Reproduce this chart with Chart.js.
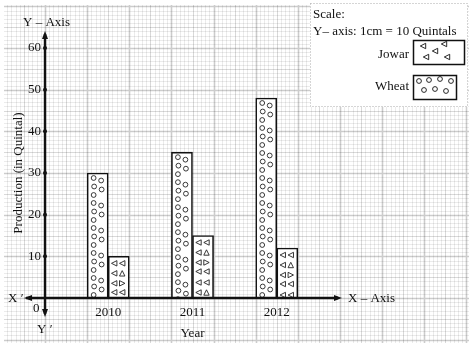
<!DOCTYPE html>
<html>
<head>
<meta charset="utf-8">
<script src="https://cdn.jsdelivr.net/npm/chart.js@4.4.0/dist/chart.umd.min.js"></script>
<style>
  html, body { margin: 0; padding: 0; background: #fff; }
</style>
</head>
<body>
<canvas id="productionChart" width="472" height="349"></canvas>
<script>
// data (blank slots keep the one-square gaps between years)
var years = ['', '2010', '', '2011', '', '2012', ''];
var wheat = [null, 30, null, 35, null, 48, null];
var jowar = [null, 10, null, 15, null, 12, null];
var yMax = 60;
var yStep = 10;

var serif = 'Liberation Serif, Times New Roman, serif';

// little marks used to fill the bars
function circleMark(ctx, x, y) {
  ctx.beginPath();
  ctx.arc(x, y, 2.4, 0, Math.PI * 2);
  ctx.stroke();
}
function triMark(ctx, x, y, dir) {
  var s = 2.7;
  ctx.beginPath();
  if (dir == 'l') { ctx.moveTo(x - s, y); ctx.lineTo(x + s, y - s); ctx.lineTo(x + s, y + s); }
  if (dir == 'r') { ctx.moveTo(x + s, y); ctx.lineTo(x - s, y - s); ctx.lineTo(x - s, y + s); }
  if (dir == 'u') { ctx.moveTo(x, y - s); ctx.lineTo(x + s, y + s); ctx.lineTo(x - s, y + s); }
  ctx.closePath();
  ctx.stroke();
}

// one tile of each fill, relative to the bar's top-left corner
var wheatTile = { h: 25, marks: [[6.5, 5], [14, 7.5], [7, 13.5], [14.5, 16.5], [6.5, 22]] };
var jowarTile = { h: 40, marks: [[6, 7, 'l'], [14, 7, 'l'], [6, 17, 'l'], [14, 17, 'u'],
                                 [6, 27, 'l'], [14, 27, 'r'], [6, 36, 'l'], [14, 36, 'l']] };

var graphPaper = {
  id: 'graphPaper',
  beforeDraw: function(chart) {
    var ctx = chart.ctx;
    var xs = chart.scales.x, ys = chart.scales.y;
    var x0 = xs.left, y0 = ys.getPixelForValue(0);
    var dx = xs.width / years.length / 10;            // 1 mm across
    var dy = (ys.getPixelForValue(0) - ys.getPixelForValue(10)) / 10; // 1 mm up
    var L = 4, R = 469, T = 5, B = 343;
    ctx.save();
    ctx.fillStyle = '#fff';
    ctx.fillRect(0, 0, chart.width, chart.height);
    var passes = [
      { test: function(k) { return k % 5 != 0; }, color: 'rgba(0,0,0,0.08)', w: 1 },
      { test: function(k) { return k % 5 == 0 && k % 10 != 0; }, color: 'rgba(0,0,0,0.15)', w: 1 },
      { test: function(k) { return k % 10 == 0; }, color: 'rgba(0,0,0,0.2)', w: 1.6 }
    ];
    passes.forEach(function(p) {
      ctx.strokeStyle = p.color;
      ctx.lineWidth = p.w;
      ctx.beginPath();
      for (var k = Math.ceil((L - x0) / dx); x0 + k * dx <= R; k++) {
        if (!p.test(Math.abs(k))) continue;
        var px = Math.round(x0 + k * dx) + 0.5;
        ctx.moveTo(px, T); ctx.lineTo(px, B);
      }
      for (var j = Math.ceil((y0 - B) / dy); y0 - j * dy >= T; j++) {
        if (!p.test(Math.abs(j))) continue;
        var py = Math.round(y0 - j * dy) + 0.5;
        ctx.moveTo(L, py); ctx.lineTo(R, py);
      }
      ctx.stroke();
    });
    ctx.restore();
  }
};

var decorations = {
  id: 'decorations',
  afterDatasetsDraw: function(chart) {
    var ctx = chart.ctx;
    var xs = chart.scales.x, ys = chart.scales.y;

    // fill bars with their marks
    [[0, wheatTile], [1, jowarTile]].forEach(function(d) {
      var meta = chart.getDatasetMeta(d[0]);
      var tile = d[1];
      meta.data.forEach(function(bar) {
        if (bar.skip || isNaN(bar.y)) return;
        var left = bar.x - bar.width / 2, top = bar.y, h = bar.base - bar.y;
        ctx.save();
        ctx.beginPath();
        ctx.rect(left + 1, top + 1, bar.width - 2, h - 1);
        ctx.clip();
        ctx.strokeStyle = '#222';
        ctx.lineWidth = 0.9;
        for (var oy = 0; oy < h; oy += tile.h) {
          tile.marks.forEach(function(m) {
            if (m.length == 3) triMark(ctx, left + m[0], top + oy + m[1], m[2]);
            else circleMark(ctx, left + m[0], top + oy + m[1]);
          });
        }
        ctx.restore();
      });
    });

    // axes with arrows
    var ax = xs.left, ay = ys.getPixelForValue(0);
    ctx.save();
    ctx.strokeStyle = '#111';
    ctx.fillStyle = '#111';
    ctx.lineWidth = 2.4;
    ctx.beginPath();
    ctx.moveTo(26, ay); ctx.lineTo(338, ay);
    ctx.moveTo(ax, 34); ctx.lineTo(ax, 314);
    ctx.stroke();
    function arrow(tx, ty, ux, uy) {
      var len = 8, half = 3;
      ctx.beginPath();
      ctx.moveTo(tx, ty);
      ctx.lineTo(tx - ux * len - uy * half, ty - uy * len + ux * half);
      ctx.lineTo(tx - ux * len + uy * half, ty - uy * len - ux * half);
      ctx.closePath();
      ctx.fill();
    }
    arrow(342, ay, 1, 0);
    arrow(24, ay, -1, 0);
    arrow(ax, 31, 0, -1);
    arrow(ax, 317, 0, 1);
    // tick dots on the y axis
    for (var v = yStep; v <= yMax; v += yStep) {
      ctx.beginPath();
      ctx.arc(ax, ys.getPixelForValue(v), 2, 0, Math.PI * 2);
      ctx.fill();
    }

    // axis names
    ctx.font = '13px ' + serif;
    ctx.textBaseline = 'middle';
    ctx.textAlign = 'left';
    ctx.fillText('X – Axis', 348, ay + 1);
    ctx.fillText('Y – Axis', 23, 23);
    ctx.fillText('X \u2032', 8, ay + 1);
    ctx.fillText('Y \u2032', 37, 330);
    ctx.fillText('0', 33, ay + 11);

    // scale / key box
    ctx.fillStyle = '#fff';
    ctx.fillRect(310, 3, 158, 104);
    ctx.strokeStyle = '#aaa';
    ctx.lineWidth = 1;
    ctx.setLineDash([1, 2]);
    ctx.strokeRect(310.5, 3.5, 157, 103);
    ctx.setLineDash([]);
    ctx.fillStyle = '#111';
    ctx.fillText('Scale:', 313, 15);
    ctx.fillText('Y\u2013 axis: 1cm = 10 Quintals', 313, 32);
    ctx.textAlign = 'right';
    ctx.fillText('Jowar', 409, 55);
    ctx.fillText('Wheat', 409, 87);
    ctx.strokeStyle = '#111';
    ctx.lineWidth = 1.5;
    ctx.strokeRect(413.5, 40.5, 51, 24);
    ctx.strokeRect(413.5, 75.5, 43, 24);
    ctx.lineWidth = 0.9;
    [[423, 46, 'l'], [444, 44, 'l'], [435, 51, 'l'], [426, 57, 'l'], [447, 57, 'l']].forEach(function(m) {
      triMark(ctx, m[0], m[1], m[2]);
    });
    [[419, 81], [429, 80], [440, 79], [451, 81], [424, 90], [435, 89], [446, 91]].forEach(function(m) {
      circleMark(ctx, m[0], m[1]);
    });
    ctx.restore();
  }
};

var ctx = document.getElementById('productionChart');
var productionChart = new Chart(ctx, {
  type: 'bar',
  data: {
    labels: years,
    datasets: [{
      label: 'Wheat',
      data: wheat,
      backgroundColor: '#fff',
      borderColor: '#111',
      borderWidth: 1.6,
      barPercentage: 1,
      categoryPercentage: 1
    }, {
      label: 'Jowar',
      data: jowar,
      backgroundColor: '#fff',
      borderColor: '#111',
      borderWidth: 1.6,
      barPercentage: 1,
      categoryPercentage: 1
    }]
  },
  options: {
    responsive: false,
    animation: false,
    devicePixelRatio: 1,
    layout: { padding: { top: 48, right: 132, left: 1, bottom: 0 } },
    plugins: {
      legend: { display: false },
      tooltip: { enabled: false }
    },
    scales: {
      x: {
        grid: { display: false, drawTicks: false },
        border: { display: false },
        ticks: { color: '#111', font: { family: serif, size: 13 }, padding: 7, maxRotation: 0, autoSkip: false },
        title: { display: true, text: 'Year', color: '#111', font: { family: serif, size: 13 }, padding: { top: 0, bottom: 8 } },
        afterFit: function(scale) { scale.height = 51; }
      },
      y: {
        min: 0,
        max: yMax,
        grid: { display: false, drawTicks: false },
        border: { display: false },
        ticks: {
          stepSize: yStep,
          padding: 4,
          color: '#111',
          font: { family: serif, size: 13 },
          callback: function(v) { return v === 0 ? '' : v; }
        },
        title: { display: true, text: 'Production (in Quintal)', color: '#111', font: { family: serif, size: 13 }, padding: { top: 10 } },
        afterFit: function(scale) { scale.width = 44; }
      }
    }
  },
  plugins: [graphPaper, decorations]
});
</script>
</body>
</html>
